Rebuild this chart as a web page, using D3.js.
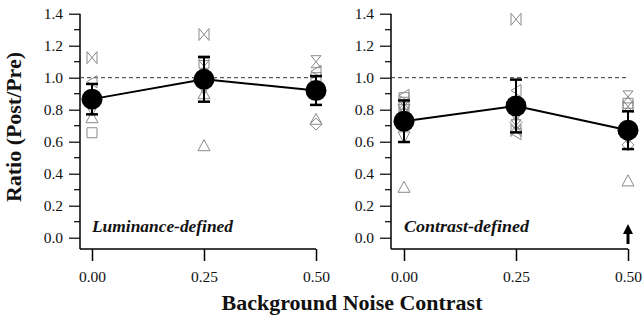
<!DOCTYPE html>
<html><head><meta charset="utf-8">
<script src="https://cdn.jsdelivr.net/npm/d3@7"></script>
<style>body{margin:0;background:#fff}svg{display:block}</style>
</head><body>
<script>
// ---- data ----
const contrasts = [0, 0.25, 0.5];
const xTickLabels = ["0.00", "0.25", "0.50"];
const yTicks = [0, 0.2, 0.4, 0.6, 0.8, 1.0, 1.2, 1.4];
const lumMean = [0.866, 0.99, 0.92];
const lumErr = [0.095, 0.14, 0.09];
const conMean = [0.728, 0.823, 0.672];
const conErr = [0.13, 0.165, 0.118];
// individual observers: [contrast, ratio, marker]
const lumPoints = [
  [0, 1.125, "bowtie"], [0, 0.975, "triLeft"], [0, 0.80, "triDown"], [0, 0.75, "triUp"], [0, 0.656, "square"],
  [0.25, 1.27, "bowtie"], [0.25, 1.09, "square"], [0.25, 1.07, "hourglass"], [0.25, 0.93, "triDown"], [0.25, 0.90, "triUp"], [0.25, 0.575, "triUp"],
  [0.5, 1.10, "hourglass"], [0.5, 1.04, "triLeft"], [0.5, 1.00, "square"], [0.5, 0.74, "triUp"], [0.5, 0.71, "diamond"]
];
const conPoints = [
  [0, 0.89, "triLeft"], [0, 0.875, "square"], [0, 0.84, "hourglass"], [0, 0.82, "bowtie"], [0, 0.80, "triDown"], [0, 0.63, "triDown"], [0, 0.315, "triUp"],
  [0.25, 1.365, "bowtie"], [0.25, 0.92, "triLeft"], [0.25, 0.76, "triDown"], [0.25, 0.72, "diamond"], [0.25, 0.70, "hourglass"], [0.25, 0.67, "bowtie"], [0.25, 0.65, "triLeft"],
  [0.5, 0.88, "hourglass"], [0.5, 0.84, "square"], [0.5, 0.82, "bowtie"], [0.5, 0.62, "triDown"], [0.5, 0.58, "diamond"], [0.5, 0.355, "triUp"]
];
const panelLabels = ["Luminance-defined", "Contrast-defined"];

// ---- layout ----
const W = 643, H = 320;
const svg = d3.select("body").append("svg").attr("width", W).attr("height", H);
const y = d3.scaleLinear().domain([0, 1.4]).range([237.7, 13.7]);
const yBottom = 249;
const serif = "'Liberation Serif', 'DejaVu Serif', serif";

function markerPath(s) {
  const w = 5, h = 6;
  switch (s) {
    case "bowtie": return `M${-w},${-h}L${-w},${h}L${w},${-h}L${w},${h}Z`;
    case "hourglass": return `M${-w},${-h}L${w},${-h}L${-w},${h}L${w},${h}Z`;
    case "triUp": return `M0,${-h}L${w + 1},${h - 1}L${-w - 1},${h - 1}Z`;
    case "triDown": return `M0,${h}L${w + 1},${-h + 1}L${-w - 1},${-h + 1}Z`;
    case "triLeft": return `M${-w},0L${w},${-h}L${w},${h}Z`;
    case "square": return `M${-w},${-w}H${w}V${w}H${-w}Z`;
    case "diamond": return `M0,${-h}L${w + 1},0L0,${h}L${-w - 1},0Z`;
  }
}

const panels = [
  { x0: 80, xa: 92, xb: 316, mean: lumMean, err: lumErr, pts: lumPoints, label: panelLabels[0], labelW: 141, arrow: false },
  { x0: 391, xa: 404, xb: 628, mean: conMean, err: conErr, pts: conPoints, label: panelLabels[1], labelW: 125, arrow: true }
];

panels.forEach(p => {
  const g = svg.append("g");
  const x = d3.scaleLinear().domain([0, 0.5]).range([p.xa, p.xb]);

  // y axis
  const yAxis = d3.axisLeft(y).tickValues(yTicks).tickFormat(d3.format(".1f")).tickSize(11).tickPadding(6);
  const ya = g.append("g").attr("transform", `translate(${p.x0},0)`).call(yAxis);
  ya.select(".domain").remove();
  ya.selectAll("line").attr("stroke", "#000").attr("stroke-width", 1.2);
  ya.selectAll("text").attr("font-family", serif).attr("font-size", 15.5).attr("fill", "#111");
  // minor ticks
  g.selectAll(".minor").data(d3.range(0.1, 1.4, 0.2)).enter().append("line")
    .attr("x1", p.x0 - 6).attr("x2", p.x0).attr("y1", d => y(d)).attr("y2", d => y(d))
    .attr("stroke", "#000").attr("stroke-width", 1.2);
  g.append("line").attr("x1", p.x0).attr("x2", p.x0).attr("y1", y(1.4)).attr("y2", yBottom)
    .attr("stroke", "#000").attr("stroke-width", 1.5);

  // x axis
  const xAxis = d3.axisBottom(x).tickValues(contrasts).tickFormat((d, i) => xTickLabels[i]).tickSize(12).tickPadding(10);
  const xa = g.append("g").attr("transform", `translate(0,${yBottom})`).call(xAxis);
  xa.select(".domain").remove();
  xa.selectAll("line").attr("stroke", "#000").attr("stroke-width", 1.5);
  xa.selectAll("text").attr("font-family", serif).attr("font-size", 15.5).attr("fill", "#111");
  g.append("line").attr("x1", p.x0).attr("x2", p.xb).attr("y1", yBottom).attr("y2", yBottom)
    .attr("stroke", "#000").attr("stroke-width", 1.5);

  // reference line
  g.append("line").attr("x1", p.x0).attr("x2", p.xb).attr("y1", y(1)).attr("y2", y(1))
    .attr("stroke", "#333").attr("stroke-width", 1).attr("stroke-dasharray", "4,3");

  // individual points
  g.selectAll(".pt").data(p.pts).enter().append("path")
    .attr("d", d => markerPath(d[2]))
    .attr("transform", d => `translate(${x(d[0])},${y(d[1])})`)
    .attr("fill", "none").attr("stroke", "#8a8a8a").attr("stroke-width", 1);

  // mean line
  g.append("path").datum(contrasts)
    .attr("d", d3.line().x(d => x(d)).y((d, i) => y(p.mean[i])))
    .attr("fill", "none").attr("stroke", "#000").attr("stroke-width", 2);

  // error bars
  contrasts.forEach((c, i) => {
    const cx = x(c), hi = y(p.mean[i] + p.err[i]), lo = y(p.mean[i] - p.err[i]);
    g.append("line").attr("x1", cx).attr("x2", cx).attr("y1", hi).attr("y2", lo).attr("stroke", "#000").attr("stroke-width", 2);
    [hi, lo].forEach(yy => g.append("line").attr("x1", cx - 6).attr("x2", cx + 6).attr("y1", yy).attr("y2", yy)
      .attr("stroke", "#000").attr("stroke-width", 2.5));
  });

  // means
  g.selectAll(".mean").data(contrasts).enter().append("circle")
    .attr("cx", d => x(d)).attr("cy", (d, i) => y(p.mean[i])).attr("r", 10.5).attr("fill", "#000");

  // panel label
  g.append("text").attr("x", p.xa).attr("y", 232).text(p.label)
    .attr("font-family", serif).attr("font-style", "italic").attr("font-weight", "bold")
    .attr("font-size", 16.5).attr("fill", "#111")
    .attr("textLength", p.labelW).attr("lengthAdjust", "spacingAndGlyphs");

  if (p.arrow) {
    const ax = x(0.5);
    g.append("line").attr("x1", ax).attr("x2", ax).attr("y1", 244).attr("y2", 232).attr("stroke", "#000").attr("stroke-width", 3);
    g.append("path").attr("d", `M${ax},224L${ax + 5},234L${ax - 5},234Z`).attr("fill", "#000");
  }
});

// axis titles
svg.append("text").attr("x", 352).attr("y", 310).attr("text-anchor", "middle")
  .text("Background Noise Contrast").attr("font-family", serif).attr("font-weight", "bold")
  .attr("font-size", 20.5).attr("fill", "#111")
  .attr("textLength", 261).attr("lengthAdjust", "spacingAndGlyphs");
svg.append("text").attr("transform", "translate(21,127) rotate(-90)").attr("text-anchor", "middle")
  .text("Ratio (Post/Pre)").attr("font-family", serif).attr("font-weight", "bold")
  .attr("font-size", 20).attr("fill", "#111")
  .attr("textLength", 150).attr("lengthAdjust", "spacingAndGlyphs");
</script>
</body></html>
